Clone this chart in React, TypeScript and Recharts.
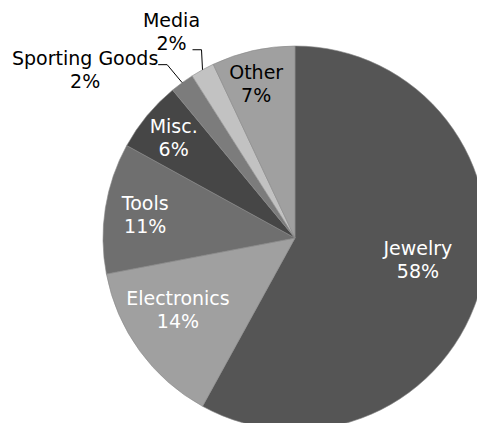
import { PieChart, Pie, Cell } from 'recharts';

const NAMES = ['Jewelry', 'Electronics', 'Tools', 'Misc.', 'Sporting Goods', 'Media', 'Other'];
const VALUES = [58, 14, 11, 6, 2, 2, 7];

const COLORS = ['#555555', '#a0a0a0', '#6f6f6f', '#464646', '#7c7c7c', '#c2c2c2', '#a0a0a0'];
const TEXT_COLORS = ['#ffffff', '#ffffff', '#ffffff', '#ffffff', '#000000', '#000000', '#000000'];

// inside labels: distance from center as fraction of the radius, and angle nudge (deg, clockwise)
const LABEL_RADIUS = [0.65, 0.715, 0.79, 0.82, 0, 0, 0.83];
const LABEL_SHIFT = [-4.5, 4.5, 0, 0, 0, 0, -1.5];

// outside labels with leader lines (offsets from slice edge)
const LEADERS: Record<number, { ex: number; ey: number; h: number; tx: number; ty: number }> = {
  4: { ex: -15, ey: -18, h: -9, tx: -73, ty: 0 },
  5: { ex: -1, ey: -20, h: -9, tx: -21, ty: -23 },
};

const RAD = Math.PI / 180;
const FONT = 'DejaVu Sans, Verdana, sans-serif';
const FONT_SIZE = 19;
const LINE = 23;

const data = NAMES.map((name, i) => ({ name, value: VALUES[i] }));

function renderLabel(props: any) {
  const { cx, cy, midAngle, outerRadius, index, percent } = props;
  const pct = `${Math.round(percent * 100)}%`;
  const name = NAMES[index];
  const leader = LEADERS[index];

  if (leader) {
    const x0 = cx + outerRadius * Math.cos(-midAngle * RAD);
    const y0 = cy + outerRadius * Math.sin(-midAngle * RAD);
    const x1 = x0 + leader.ex;
    const y1 = y0 + leader.ey;
    const x2 = x1 + leader.h;
    const tx = x2 + leader.tx;
    const ty = y1 + leader.ty;
    return (
      <g key={`label-${index}`}>
        <polyline points={`${x0},${y0} ${x1},${y1} ${x2},${y1}`} fill="none" stroke="#000" strokeWidth={1} />
        <text x={tx} y={ty} textAnchor="middle" fill="#000" fontSize={FONT_SIZE} fontFamily={FONT}>
          <tspan x={tx} dy={0}>{name}</tspan>
          <tspan x={tx} dy={LINE}>{pct}</tspan>
        </text>
      </g>
    );
  }

  const angle = midAngle - LABEL_SHIFT[index];
  const r = outerRadius * LABEL_RADIUS[index];
  const x = cx + r * Math.cos(-angle * RAD);
  const y = cy + r * Math.sin(-angle * RAD);
  return (
    <text key={`label-${index}`} x={x} y={y} textAnchor="middle" fill={TEXT_COLORS[index]} fontSize={FONT_SIZE} fontFamily={FONT}>
      <tspan x={x} dy={-4.5}>{name}</tspan>
      <tspan x={x} dy={LINE}>{pct}</tspan>
    </text>
  );
}

export default function App() {
  return (
    <div style={{ width: 477, height: 423, background: '#fff' }}>
      <style>{'body{margin:0}'}</style>
      <PieChart width={477} height={423} margin={{ top: 0, right: 0, bottom: 0, left: 0 }}>
        <Pie
          data={data}
          dataKey="value"
          nameKey="name"
          cx={295}
          cy={238}
          outerRadius={192}
          startAngle={90}
          endAngle={-270}
          stroke="#888888"
          strokeWidth={0.6}
          label={renderLabel}
          labelLine={false}
          isAnimationActive={false}
        >
          {data.map((d, i) => (
            <Cell key={d.name} fill={COLORS[i]} />
          ))}
        </Pie>
      </PieChart>
    </div>
  );
}
